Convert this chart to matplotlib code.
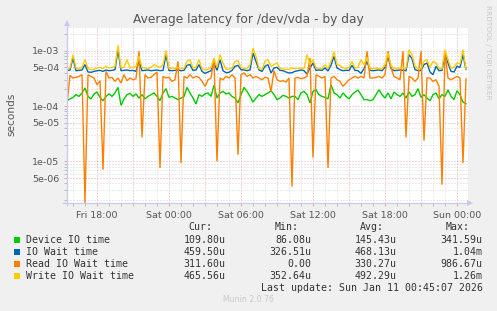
import numpy as np
import matplotlib
matplotlib.use("Agg")
import matplotlib.pyplot as plt
from matplotlib.lines import Line2D
from matplotlib.patches import Polygon, Rectangle

W, H = 497, 311

# ---- data -------------------------------------------------------------
t0_hours = 15.5      # first sample: Fri 15:30 (hours since Fri 00:00)
step_hours = 0.25    # 15-minute samples

device_us = [125, 135, 144, 161, 150, 173, 213, 150, 135, 166, 180, 144, 125, 150, 166, 150, 173, 218, 103, 135,
             161, 170, 150, 166, 140, 161, 135, 150, 161, 173, 150, 125, 173, 207,
             144, 150, 140, 131, 140, 150, 218, 173, 140, 109, 161, 150, 166, 173, 150, 238, 140, 173, 185, 166,
             173, 150, 140, 114, 161, 218, 185, 150, 118, 140, 161, 150, 161, 173,
             190, 161, 131, 140, 157, 150, 140, 150, 150, 131, 173, 185, 161, 114, 185, 198, 161, 150, 144, 135,
             244, 173, 161, 140, 173, 150, 135, 161, 180, 195, 161, 131, 131,
             125, 131, 161, 198, 161, 140, 173, 135, 180, 161, 150, 173, 140, 180, 150, 161, 207, 144, 161, 140,
             125, 161, 173, 135, 161, 150, 198, 150, 131, 190, 161, 118, 110]

iowait_us = [437, 450, 741, 437, 443, 450, 562, 414, 408, 425, 437, 443, 425, 450, 437, 443, 456, 1040, 437, 443,
             450, 437, 443, 425, 645, 437, 443, 450, 437, 443, 450, 437, 443, 851,
             443, 437, 443, 450, 437, 443, 546, 562, 443, 450, 562, 425, 391, 414, 437, 602, 443, 691, 437, 402,
             408, 443, 524, 546, 456, 450, 437, 450, 912, 645, 450, 425, 524, 562,
             397, 489, 502, 443, 437, 414, 397, 402, 425, 437, 450, 437, 381, 489, 602, 443, 450, 443, 489, 431,
             546, 794, 489, 456, 437, 443, 443, 546, 443, 437, 391, 476, 645,
             443, 437, 443, 450, 437, 502, 794, 476, 437, 443, 450, 443, 437, 851, 720, 456, 437, 443, 562, 602,
             414, 370, 524, 437, 443, 870, 602, 425, 414, 524, 502, 851, 460]

read_us = [106, 360, 322, 331, 345, 370, 0, 370, 345, 322, 244, 288, 7.1, 425, 322, 331, 280, 322, 262, 370,
           288, 322, 300, 313, 985, 27.2, 370, 322, 331, 370, 414, 7.6, 345, 322,
           331, 280, 300, 645, 9.35, 345, 322, 370, 322, 345, 331, 280, 228, 300, 322, 691, 10.0, 322, 300, 345,
           322, 370, 322, 13.2, 370, 397, 345, 370, 322, 345, 322, 300, 331, 322,
           185, 437, 300, 280, 288, 273, 322, 3.5, 322, 331, 313, 322, 345, 741, 11.8, 370, 345, 322, 345, 7.6,
           322, 345, 300, 280, 228, 262, 300, 322, 345, 322, 345, 322, 980,
           322, 322, 331, 345, 322, 370, 980, 489, 345, 322, 300, 980, 27.2, 345, 322, 280, 322, 980, 23.7, 322,
           322, 280, 300, 228, 3.8, 980, 322, 300, 322, 345, 322, 9.35, 312]

write_us = [456, 489, 851, 489, 476, 502, 691, 476, 456, 463, 489, 502, 476, 524, 489, 502, 524, 1260, 489, 502,
            691, 489, 502, 524, 794, 502, 489, 476, 502, 562, 524, 502, 562, 1006,
            476, 489, 482, 502, 476, 482, 645, 691, 489, 502, 691, 476, 450, 463, 502, 741, 502, 851, 602, 463,
            469, 489, 645, 658, 502, 482, 476, 562, 1124, 794, 476, 463, 645, 691,
            524, 562, 602, 476, 469, 463, 463, 489, 476, 482, 489, 476, 851, 562, 691, 489, 482, 476, 562, 476,
            645, 953, 562, 546, 489, 476, 502, 645, 489, 502, 691, 562, 761,
            476, 476, 482, 476, 469, 562, 912, 546, 476, 482, 489, 502, 476, 1048, 851, 524, 476, 482, 645, 691,
            502, 645, 602, 482, 476, 1048, 691, 482, 502, 602, 577, 1048, 466]

series_names = ['Device IO time', 'IO Wait time', 'Read IO Wait time', 'Write IO Wait time']
series_colors = ['#00CC00', '#0066B3', '#FF8000', '#FFCC00']
cur_vals = ['109.80u', '459.50u', '311.60u', '465.56u']
min_vals = ['86.08u', '326.51u', '0.00', '352.64u']
avg_vals = ['145.43u', '468.13u', '330.27u', '492.29u']
max_vals = ['341.59u', '1.04m', '986.67u', '1.26m']

xtick_hours = [18, 24, 30, 36, 42, 48]
xtick_labels = ['Fri 18:00', 'Sat 00:00', 'Sat 06:00', 'Sat 12:00', 'Sat 18:00', 'Sun 00:00']
ytick_values = [1e-3, 5e-4, 1e-4, 5e-5, 1e-5, 5e-6]
ytick_labels = ['1e-03', '5e-04', '1e-04', '5e-05', '1e-05', '5e-06']

title = 'Average latency for /dev/vda - by day'
last_update = 'Last update: Sun Jan 11 00:45:07 2026'

# ---- layout -----------------------------------------------------------
BG = '#F0F0F0'
TXT = '#333333'
AXC = '#C8C8F0'
GRID_MINOR = '#D8D8D8'
GRID_MAJOR = '#E8A8A8'

x_lo, x_hi = 15.5, 15.5 + 401 / 12.0
y_lo, y_hi = 1.77e-6, 2.585e-3


def fx(x):
    return x / W


def fy(y):
    return 1 - y / H


fig = plt.figure(figsize=(W / 100, H / 100), dpi=100, facecolor=BG)
ax = fig.add_axes([fx(67), fy(203), (468 - 67) / W, (203 - 28) / H])
ax.set_facecolor('white')
ax.set_yscale('log', nonpositive='clip')
ax.set_xlim(x_lo, x_hi)
ax.set_ylim(y_lo, y_hi)
for s in ax.spines.values():
    s.set_visible(False)

# grid
for e in range(-6, -2):
    for m in range(1, 10):
        v = m * 10.0 ** e
        if y_lo <= v <= y_hi:
            major = m in (1, 5)
            ax.axhline(v, color=GRID_MAJOR if major else GRID_MINOR, lw=0.72,
                       ls=(0, (1, 2)), zorder=0)
for h in range(16, 49):
    ax.axvline(h, color=GRID_MAJOR if h % 3 == 0 else GRID_MINOR, lw=0.72,
               ls=(0, (1, 2)), zorder=0)

# series (values below the graph floor are drawn at the floor, as rrdtool does)
t = t0_hours + step_hours * np.arange(len(device_us))
for vals, col in zip([device_us, iowait_us, read_us, write_us], series_colors):
    v = np.clip(np.array(vals, dtype=float) * 1e-6, y_lo, None)
    ax.plot(t, v, color=col, lw=1.0, zorder=3, solid_joinstyle='miter')

# ticks
ax.set_xticks(xtick_hours)
ax.set_xticklabels(xtick_labels)
ax.set_xticks([h for h in range(16, 49) if h not in xtick_hours], minor=True)
ax.set_yticks(ytick_values)
ax.set_yticklabels(ytick_labels)
minor_y = [m * 10.0 ** e for e in range(-6, -2) for m in range(1, 10)
           if m not in (1, 5) and y_lo <= m * 10.0 ** e <= y_hi]
ax.set_yticks(minor_y, minor=True)
ax.yaxis.set_minor_formatter(plt.NullFormatter())
ax.xaxis.set_minor_formatter(plt.NullFormatter())
ax.tick_params(axis='both', which='major', length=2.5, width=0.7, color=GRID_MAJOR,
               labelsize=6.8, labelcolor='#555555', pad=3)
ax.tick_params(axis='both', which='minor', length=2, width=0.7, color='#BBBBBB')

# axis lines with arrows
fig.add_artist(Line2D([fx(67), fx(67)], [fy(205), fy(25)], color=AXC, lw=0.9))
fig.add_artist(Polygon([[fx(64), fy(26)], [fx(70), fy(26)], [fx(67), fy(20)]], closed=True,
                       transform=fig.transFigure, color=AXC, lw=0))
fig.add_artist(Line2D([fx(63), fx(468)], [fy(203), fy(203)], color=AXC, lw=0.9))
fig.add_artist(Polygon([[fx(467), fy(200)], [fx(467), fy(206)], [fx(473), fy(203)]], closed=True,
                       transform=fig.transFigure, color=AXC, lw=0))

# texts
fig.text(fx(248), fy(19.5), title, ha='center', va='center', fontsize=8.8, color='#555555')
fig.text(fx(11.5), fy(114), 'seconds', ha='center', va='center', rotation=90, fontsize=7.6,
         color='#555555')
fig.text(fx(488), fy(5), 'RRDTOOL / TOBI OETIKER', ha='center', va='top', rotation=270,
         fontsize=5.3, color='#C8C8C8')

mono = 'DejaVu Sans Mono'
fs = 7.1
hdr_y = 227.3
for lbl, xr in zip(['Cur:', 'Min:', 'Avg:', 'Max:'], [212, 299, 384, 470]):
    fig.text(fx(xr), fy(hdr_y), lbl, ha='right', va='center', family=mono, fontsize=fs, color=TXT)

row_y = [239.7, 251.7, 263.7, 275.7]
for i, name in enumerate(series_names):
    y = row_y[i]
    fig.add_artist(Rectangle((fx(14), fy(y + 3)), 6 / W, 6 / H, transform=fig.transFigure,
                             color=series_colors[i], lw=0))
    fig.text(fx(26), fy(y), name, ha='left', va='center', family=mono, fontsize=fs, color=TXT)
    for col, xr in zip([cur_vals, min_vals, avg_vals, max_vals], [225.3, 311.7, 396.7, 482.7]):
        fig.text(fx(xr), fy(y), col[i], ha='right', va='center', family=mono, fontsize=fs, color=TXT)

fig.text(fx(482.7), fy(287.7), last_update, ha='right', va='center', family=mono, fontsize=fs,
         color=TXT)
fig.text(fx(248), fy(300), 'Munin 2.0.76', ha='center', va='center', fontsize=5.6, color='#C8C8C8')

fig.savefig('out.png', dpi=100, facecolor=BG)
